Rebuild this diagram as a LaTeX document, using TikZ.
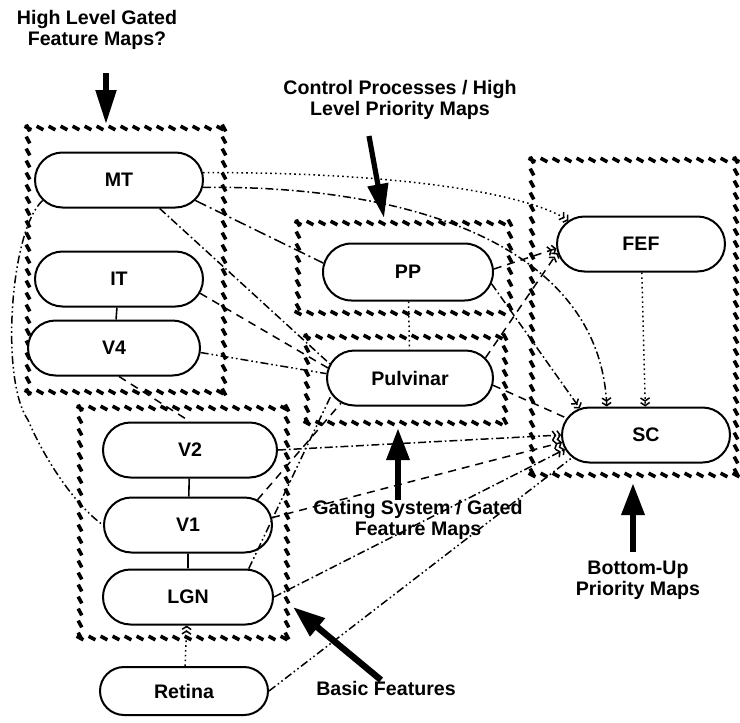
\documentclass[tikz,border=0pt]{standalone}
\usepackage{fontspec}
\setmainfont{Liberation Sans}
\usetikzlibrary{arrows.meta,shapes.misc,decorations.markings}
\tikzset{
  area/.style={rounded rectangle, draw, fill=white, line width=1pt, minimum width=84pt, minimum height=27.5pt, inner sep=0pt, font=\fontsize{9.8}{11}\selectfont\bfseries},
  lbl/.style={align=center, font=\fontsize{9.8}{10.5}\selectfont\bfseries, inner sep=0pt},
  hatchH/.style={decoration={markings, mark=between positions 0 and 1 step 6pt with {\pgftransformresetnontranslations \draw[line width=1.8pt] (-1.7pt,0.9pt)--(1.7pt,-0.9pt);}}, decorate},
  hatchV/.style={decoration={markings, mark=between positions 0 and 1 step 6pt with {\pgftransformresetnontranslations \draw[line width=1.8pt] (-0.9pt,1.7pt)--(0.9pt,-1.7pt);}}, decorate},
  conn/.style={line width=0.75pt},
  solidln/.style={line width=0.8pt},
  dotln/.style={conn, dash pattern=on 0.8pt off 1.6pt},
  dashdot/.style={conn, dash pattern=on 4pt off 1.5pt on 0.8pt off 1.5pt},
  dashdotdot/.style={conn, dash pattern=on 4pt off 1.5pt on 0.8pt off 1.5pt on 0.8pt off 1.5pt},
  longdashdot/.style={conn, dash pattern=on 6pt off 2pt on 1pt off 2pt},
  dashln/.style={conn, dash pattern=on 4pt off 3pt},
  hashtip/.style={-{Straight Barb[length=1.5pt,width=4.5pt]Straight Barb[length=1.5pt,width=4.5pt]}},
  bigarrow/.style={line width=2.6pt, -{Triangle[length=17pt,width=10pt]}},
  bigarrowb/.style={line width=3.2pt, -{Triangle[length=16pt,width=11pt]}},
}
\newcommand{\hatchrect}[4]{%
  \path[hatchH] (#1,#2) -- (#3,#2);
  \path[hatchH] (#1,#4) -- (#3,#4);
  \path[hatchV] (#1,#2) -- (#1,#4);
  \path[hatchV] (#3,#2) -- (#3,#4);
}
\begin{document}
\begin{tikzpicture}[x=0.5pt,y=-0.5pt]
\useasboundingbox (0,0) rectangle (740,723);

% group boxes
\hatchrect{28}{128}{224}{392}
\hatchrect{80}{408}{287}{638}
\hatchrect{298}{223}{510}{313}
\hatchrect{307}{337}{505}{423}
\hatchrect{532}{160}{736}{475}

% nodes
\node[area] (MT) at (119,180) {MT};
\node[area] (IT) at (119,279) {IT};
\node[area, minimum width=86pt] (V4) at (114,348) {V4};
\node[area, minimum width=87pt] (V2) at (190,450) {V2};
\node[area] (V1) at (188,525) {V1};
\node[area, minimum width=85pt] (LGN) at (188,597) {LGN};
\node[area, minimum height=24pt] (Retina) at (184,691) {Retina};
\node[area, minimum width=85pt, minimum height=28.5pt] (PP) at (408,272) {PP};
\node[area, minimum width=83pt] (Pulvinar) at (410,378) {Pulvinar};
\node[area] (FEF) at (641,244) {FEF};
\node[area] (SC) at (646,435) {SC};

% solid links
\draw[solidln] (IT) -- (V4);
\draw[solidln] (V2) -- (V1);
\draw[solidln] (V1) -- (LGN);

% dotted verticals
\draw[dotln, hashtip] (Retina) -- (LGN);
\draw[dotln] (PP) -- (Pulvinar);
\draw[dotln, hashtip] (FEF) -- (SC);

% from MT / IT / V4
\draw[dotln, hashtip] (MT.5) .. controls (380,172) and (520,190) .. (FEF.162);
\draw[dashdot, hashtip] (MT.-5) .. controls (420,185) and (600,250) .. (SC.144);
\draw[longdashdot] (MT.-15) -- (PP.174);
\draw[dashdot] (MT.-35) -- (Pulvinar.170);
\draw[dashln] (IT.-10) -- (Pulvinar.173);
\draw[dashdotdot] (V4.-3) -- (Pulvinar.177);
\draw[dashln] (V4.-80) -- (V2.north);
\coordinate (bend) at (28,420);
\draw[dashdotdot] (MT.195) .. controls (10,230) and (0,380) .. (bend) .. controls (45,460) and (75,505) .. (V1.west);

% PP / Pulvinar to FEF / SC
\draw[dashln, hashtip] (PP.2) -- (FEF.183);
\draw[dashdot, hashtip] (PP.-8) -- (SC.158);
\draw[dashln, hashtip] (Pulvinar.15) -- (FEF.186);
\draw[dashln] (Pulvinar.-5) -- (SC.168);

% lower areas to SC / Pulvinar
\draw[dashdot, hashtip] (V2.east) -- (SC.west);
\draw[dashln, hashtip] (V1.5) -- (SC.185);
\draw[dashdot, hashtip] (LGN.east) -- (SC.190);
\draw[dashdotdot] (Retina.east) -- (SC.197);
\draw[dashln] (V1.20) -- (Pulvinar.200);
\draw[dashdotdot] (LGN.25) -- (Pulvinar.192);

% labels
\node[lbl] (t1) at (97,30) {High Level Gated\\Feature Maps?};
\node[lbl] (t2) at (400,100) {Control Processes / High\\Level Priority Maps};
\node[lbl] (t3) at (418,520) {Gating System / Gated\\Feature Maps};
\node[lbl] (t4) at (638,580) {Bottom-Up\\Priority Maps};
\node[lbl] (t5) at (386,688) {Basic Features};

% big arrows
\coordinate (a1s) at (106,73);  \coordinate (a1e) at (106,124);
\coordinate (a2s) at (369,136); \coordinate (a2e) at (384,218);
\coordinate (a3s) at (398,500); \coordinate (a3e) at (398,428);
\coordinate (a4s) at (633,552); \coordinate (a4e) at (633,483);
\coordinate (a5s) at (381,680); \coordinate (a5e) at (293,607);
\draw[bigarrow] (a1s) -- (a1e);
\draw[bigarrow] (a2s) -- (a2e);
\draw[bigarrowb] (a3s) -- (a3e);
\draw[bigarrowb] (a4s) -- (a4e);
\draw[bigarrowb] (a5s) -- (a5e);
\end{tikzpicture}
\end{document}
